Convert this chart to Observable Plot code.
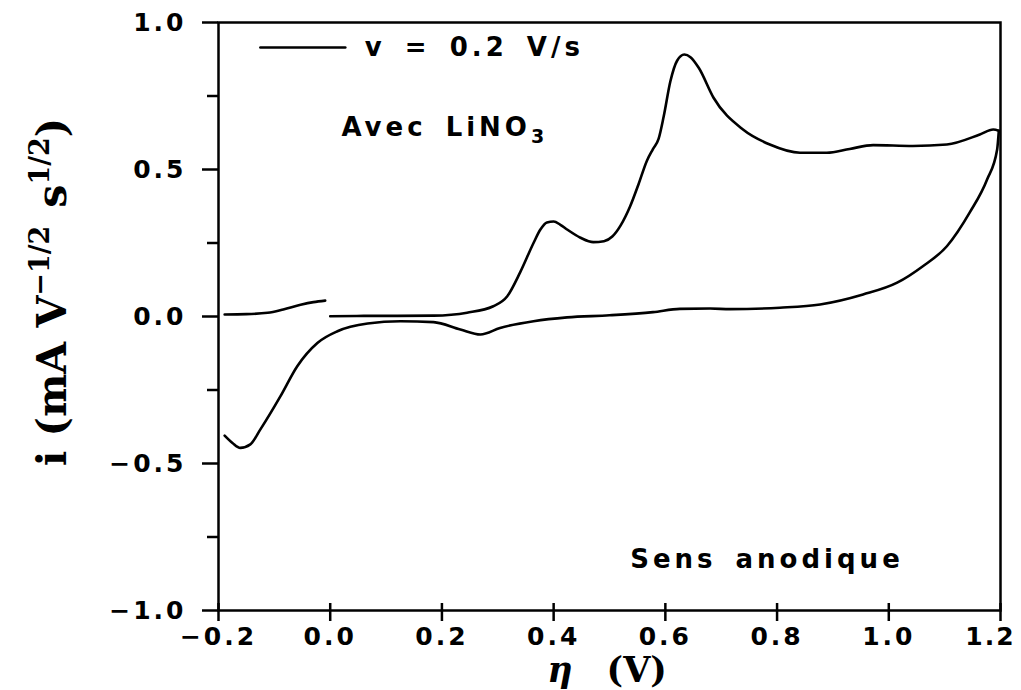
<!DOCTYPE html>
<html><head><meta charset="utf-8">
<script src="https://cdn.jsdelivr.net/npm/d3@7"></script>
<script src="https://cdn.jsdelivr.net/npm/@observablehq/plot@0.6"></script>
<style>body{margin:0;background:#fff;} svg{display:block;}</style>
</head><body><div id="chart"></div>
<script>
// Segment 1: short piece at start (-0.2 .. 0.0)
const seg1X = [-0.189, -0.15, -0.112, -0.084, -0.053, -0.03, -0.009];
const seg1Y = [0.007, 0.008, 0.0125, 0.024, 0.040, 0.049, 0.054];
// Segment 2: anodic sweep 0.0 -> 1.2
const fwdX = [0.0, 0.06, 0.12, 0.185, 0.245, 0.292, 0.317, 0.340, 0.364, 0.376, 0.388, 0.40, 0.412, 0.424, 0.448, 0.471, 0.49, 0.505, 0.52, 0.537, 0.552, 0.567, 0.578, 0.588, 0.597, 0.609, 0.621, 0.634, 0.645, 0.660, 0.686, 0.739, 0.787, 0.841, 0.889, 0.930, 0.972, 1.043, 1.104, 1.163, 1.187, 1.197];
const fwdY = [0.001, 0.002, 0.002, 0.003, 0.013, 0.035, 0.069, 0.15, 0.25, 0.295, 0.320, 0.323, 0.312, 0.296, 0.268, 0.253, 0.256, 0.272, 0.31, 0.375, 0.45, 0.53, 0.57, 0.605, 0.68, 0.80, 0.87, 0.891, 0.882, 0.845, 0.745, 0.636, 0.585, 0.557, 0.557, 0.570, 0.583, 0.580, 0.585, 0.619, 0.636, 0.632];
// Segment 3: reverse sweep 1.2 -> -0.2
const revX = [1.197, 1.194, 1.176, 1.145, 1.104, 1.061, 1.015, 0.954, 0.877, 0.805, 0.716, 0.68, 0.626, 0.578, 0.50, 0.424, 0.364, 0.304, 0.269, 0.233, 0.185, 0.126, 0.067, 0.013, -0.023, -0.059, -0.089, -0.125, -0.143, -0.161, -0.175, -0.189];
const revY = [0.632, 0.568, 0.466, 0.354, 0.239, 0.171, 0.115, 0.075, 0.041, 0.030, 0.025, 0.027, 0.026, 0.015, 0.004, -0.003, -0.016, -0.039, -0.061, -0.044, -0.019, -0.016, -0.024, -0.05, -0.09, -0.169, -0.271, -0.384, -0.435, -0.447, -0.43, -0.405];

const xTicks = [-0.2, 0.0, 0.2, 0.4, 0.6, 0.8, 1.0, 1.2];
const yTicks = [-1.0, -0.5, 0.0, 0.5, 1.0];
const yMinor = [-0.75, -0.25, 0.25, 0.75];

const legendLineX = [-0.125, 0.027];
const legendLineY = 0.915;
const notes = [
  {x: 0.062, y: 0.915, text: "v = 0.2 V/s"},
  {x: 0.02, y: 0.643, text: "Avec LiNO₃"},
  {x: 0.537, y: -0.827, text: "Sens anodique"}
];

const toRows = (xs, ys) => xs.map((x, i) => ({x, y: ys[i]}));
const fmt = d => (d < 0 ? "−" : "") + Math.abs(d).toFixed(1);

const plot = Plot.plot({
  width: 1021, height: 690,
  marginLeft: 218, marginRight: 21, marginTop: 22, marginBottom: 80,
  x: {domain: [-0.2, 1.2]},
  y: {domain: [-1, 1]},
  style: {fontFamily: "DejaVu Sans", fontWeight: "bold", fontSize: "25px", color: "black", background: "white"},
  marks: [
    Plot.frame({stroke: "black", strokeWidth: 2.5}),
    Plot.axisY({ticks: yTicks, tickSize: 16, tickPadding: 16, tickFormat: fmt, label: null, strokeWidth: 2.5, fontSize: 25}),
    Plot.axisY({ticks: yMinor, tickSize: 11, tickFormat: () => "", label: null, strokeWidth: 2.5}),
    Plot.axisX({ticks: xTicks, tickSize: 11, tickPadding: 6, tickFormat: fmt, label: null, strokeWidth: 2.5, fontSize: 25}),
    Plot.axisX({ticks: xTicks, tickSize: -7, tickFormat: () => "", label: null, strokeWidth: 2.5}),
    Plot.line(toRows(seg1X, seg1Y), {x: "x", y: "y", stroke: "black", strokeWidth: 2.6, curve: "monotone-x"}),
    Plot.line(toRows(fwdX, fwdY), {x: "x", y: "y", stroke: "black", strokeWidth: 2.6, curve: "monotone-x"}),
    Plot.line(toRows(revX, revY), {x: "x", y: "y", stroke: "black", strokeWidth: 2.6, curve: "monotone-x"}),
    Plot.line(legendLineX.map(x => ({x, y: legendLineY})), {x: "x", y: "y", stroke: "black", strokeWidth: 2.6}),
    Plot.text(notes, {x: "x", y: "y", text: "text", textAnchor: "start", fontSize: 26, fontWeight: "bold", fontFamily: "DejaVu Sans"})
  ]
});

const svg = d3.select(plot);
svg.selectAll("g[aria-label='y-axis tick label'] text, g[aria-label='x-axis tick label'] text").attr("letter-spacing", "3px");
svg.selectAll("g[aria-label='text'] text").attr("letter-spacing", "4px").attr("word-spacing", "6px");
// real subscript for LiNO3
svg.selectAll("g[aria-label='text'] text").each(function() {
  const t = d3.select(this);
  if (t.text() === "Avec LiNO₃") {
    t.text("Avec LiNO");
    t.append("tspan").attr("font-size", 19).attr("dy", 7).text("3");
  }
});
// keep the last x tick label inside the picture
svg.selectAll("g[aria-label='x-axis tick label'] text").each(function() {
  if (this.textContent === "1.2") d3.select(this).attr("dx", -10).attr("letter-spacing", "2px");
});
// x-axis title
const xl = svg.append("text").attr("x", 607).attr("y", 682).attr("text-anchor", "middle")
  .attr("font-family", "DejaVu Serif").attr("font-size", 35).attr("fill", "black");
xl.append("tspan").attr("font-style", "italic").text("η");
xl.append("tspan").attr("dx", 34).attr("font-weight", "bold").text("(V)");
// y-axis title
const yl = svg.append("text").attr("transform", "translate(66,292) rotate(-90)").attr("text-anchor", "middle")
  .attr("font-family", "DejaVu Serif").attr("font-weight", "bold").attr("font-size", 41).attr("fill", "black");
yl.append("tspan").text("i (mA V");
yl.append("tspan").attr("font-size", 27).attr("dy", -17).text("−1/2");
yl.append("tspan").attr("dy", 17).attr("dx", 18).text("s");
yl.append("tspan").attr("font-size", 27).attr("dy", -17).text("1/2");
yl.append("tspan").attr("dy", 17).text(")");

document.getElementById("chart").appendChild(plot);
</script></body></html>
